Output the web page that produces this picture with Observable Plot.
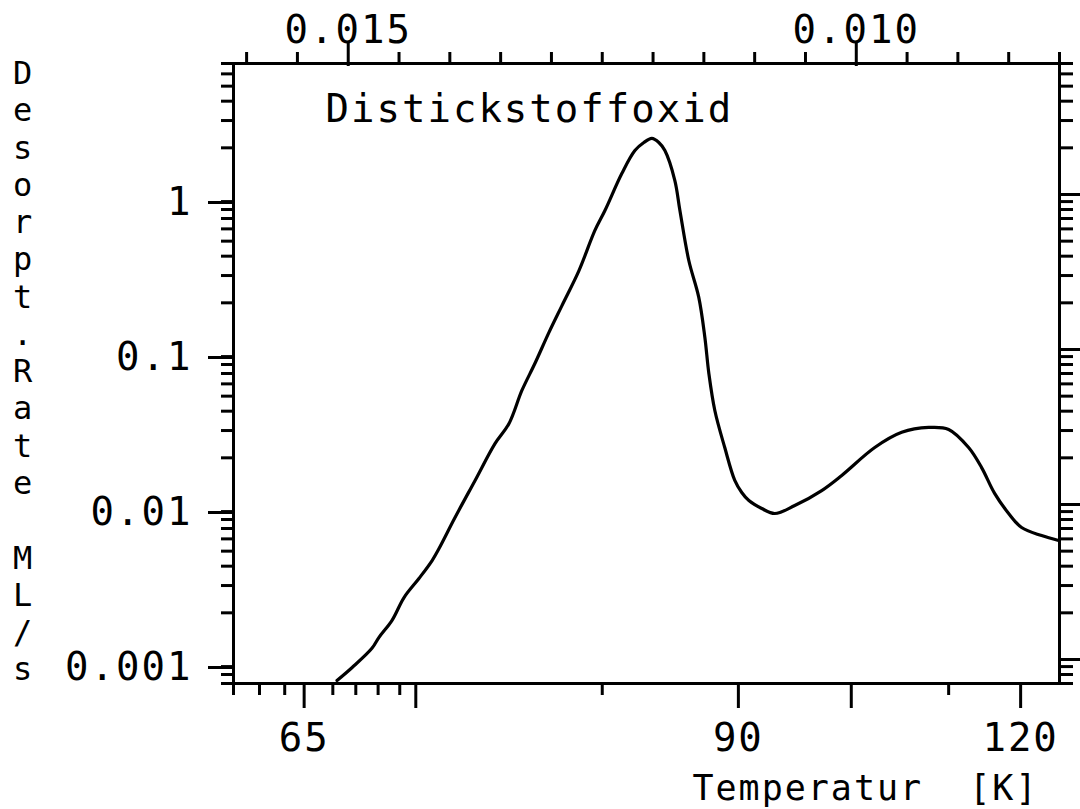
<!DOCTYPE html>
<html><head><meta charset="utf-8">
<script src="https://cdn.jsdelivr.net/npm/d3@7"></script>
<script src="https://cdn.jsdelivr.net/npm/@observablehq/plot@0.6"></script>
<style>
body{margin:0;background:#fff;}
#chart svg text{letter-spacing:2px; white-space:pre;}
</style></head><body><div id="chart"></div>
<script>
// Temperature (K) and desorption rate (ML/s)
const temperature = [66.18, 66.84, 67.72, 68.04, 68.64, 69.20, 69.91, 70.55, 70.89, 71.69, 72.72, 73.77, 74.53, 75.24, 75.97, 76.78, 77.54, 78.56, 79.54, 80.17, 81.26, 82.11, 82.71, 83.25, 83.73, 84.15, 84.85, 85.21, 85.85, 86.58, 87.03, 87.33, 87.78, 88.54, 89.32, 89.87, 90.44, 91.49, 92.57, 94.29, 96.71, 98.59, 101.85, 104.68, 107.67, 110.0, 112.43, 114.07, 115.76, 117.64, 119.43, 122.31, 124.86];
const rate = [0.000732, 0.000888, 0.00118, 0.00139, 0.00179, 0.00251, 0.00333, 0.00435, 0.0052, 0.00824, 0.0143, 0.0247, 0.0333, 0.0544, 0.0812, 0.129, 0.192, 0.323, 0.586, 0.788, 1.37, 1.92, 2.165, 2.30, 2.165, 1.92, 1.23, 0.788, 0.375, 0.217, 0.120, 0.070, 0.0404, 0.0233, 0.0143, 0.01195, 0.0106, 0.00942, 0.00875, 0.00985, 0.0123, 0.0154, 0.0233, 0.0292, 0.0314, 0.0305, 0.0233, 0.0173, 0.0118, 0.00875, 0.0071, 0.0063, 0.00586];

// Bottom axis (temperature, drawn on a 1/T scale)
const xMajorT = [65, 70, 90, 100, 120];
const xMajorLabels = ["65", "", "90", "", "120"];
const xMinorT = [62, 63, 64, 66, 67, 68, 69, 80, 110];
// Top axis (1/T)
const topMajor = [0.015, 0.010];
const topMajorLabels = ["0.015", "0.010"];
const topMinor = [0.016, 0.0155, 0.0145, 0.014, 0.0135, 0.013, 0.0125, 0.012, 0.0115, 0.011, 0.0105, 0.0095, 0.009, 0.0085, 0.008];
// Y axis (log)
const yMajor = [0.001, 0.01, 0.1, 1];
const yMajorLabels = ["0.001", "0.01", "0.1", "1"];
const yMinor = [0.0007, 0.0008, 0.0009, 0.002, 0.003, 0.004, 0.005, 0.006, 0.007, 0.008, 0.009, 0.02, 0.03, 0.04, 0.05, 0.06, 0.07, 0.08, 0.09, 0.2, 0.3, 0.4, 0.5, 0.6, 0.7, 0.8, 0.9, 2, 3, 4, 5, 6, 7];

const title = "Distickstoffoxid";
const xLabel = "Temperatur  [K]";
const yLabel = "Desorpt.Rate ML/s";

const data = temperature.map((T, i) => ({T, inv: 1 / T, rate: rate[i]}));
const font = "DejaVu Sans Mono";
const noText = () => "";

const chart = Plot.plot({
  width: 1080,
  height: 809,
  marginLeft: 233,
  marginRight: 21,
  marginTop: 63,
  marginBottom: 126,
  style: {fontFamily: font, fontSize: "39px", color: "#000", background: "#fff"},
  x: {type: "linear", domain: [1 / 62, 1 / 125]},
  y: {type: "log", domain: [0.0007, 7]},
  marks: [
    Plot.frame({stroke: "#000", strokeWidth: 3}),
    // bottom axis
    Plot.axisX(xMinorT.map(t => 1 / t), {anchor: "bottom", tickSize: 12, tickFormat: noText, strokeWidth: 3, label: null}),
    Plot.axisX(xMajorT.map(t => 1 / t), {anchor: "bottom", tickSize: 25, tickPadding: 15, dx: -5, strokeWidth: 3, label: null,
      tickFormat: d => xMajorLabels[xMajorT.indexOf(Math.round(1 / d))]}),
    // top axis
    Plot.axisX(topMinor, {anchor: "top", tickSize: 12, tickFormat: noText, strokeWidth: 3, label: null}),
    Plot.axisX(topMajor, {anchor: "top", tickSize: 23, tickPadding: 0, dy: 2, strokeWidth: 3, label: null,
      tickFormat: d => topMajorLabels[topMajor.indexOf(d)]}),
    // left axis
    Plot.axisY(yMinor, {anchor: "left", tickSize: 12, tickFormat: noText, strokeWidth: 3, label: null}),
    Plot.axisY(yMajor, {anchor: "left", tickSize: 25, tickPadding: 16, dy: 8, strokeWidth: 3, label: null,
      tickFormat: d => yMajorLabels[yMajor.indexOf(d)]}),
    // right axis
    Plot.axisY(yMinor, {anchor: "right", tickSize: 13, tickFormat: noText, strokeWidth: 3, label: null}),
    Plot.axisY(yMajor, {anchor: "right", tickSize: 21, tickFormat: noText, strokeWidth: 3, label: null}),
    // curve
    Plot.line(data, {x: "inv", y: "rate", stroke: "#000", strokeWidth: 3.2, curve: "catmull-rom"}),
    // title
    Plot.text([title], {frameAnchor: "top-left", dx: 92, dy: 31, textAnchor: "start", lineAnchor: "top", fontSize: 39, style: "letter-spacing:2.7px"}),
    // x label
    Plot.text([xLabel], {frameAnchor: "bottom-right", dx: -21, dy: 105, textAnchor: "end", lineAnchor: "middle", fontSize: 35}),
    // y label (stacked)
    Plot.text([yLabel.split("").join("\n")], {frameAnchor: "top-left", dx: -210, dy: -6, textAnchor: "middle", lineAnchor: "top", fontSize: 32, lineHeight: 1.165})
  ]
});
document.getElementById("chart").appendChild(chart);
</script>
</body></html>
